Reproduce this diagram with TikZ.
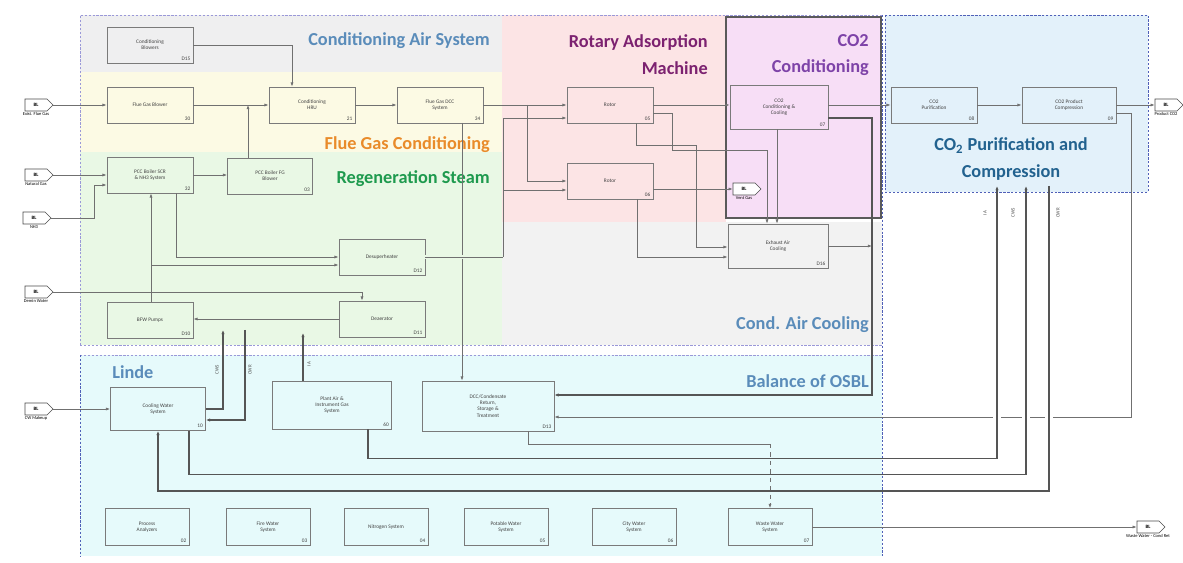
\documentclass[tikz,border=0pt]{standalone}
\usepackage{fontspec}
\setmainfont{Carlito}
\usetikzlibrary{arrows.meta,positioning,calc,shapes.symbols}
\definecolor{wire}{HTML}{707070}
\definecolor{utilwire}{HTML}{555555}
\definecolor{boxline}{HTML}{7A7A7A}
\definecolor{condline}{HTML}{5A5A5A}
\definecolor{airfill}{HTML}{EFEFF0}
\definecolor{fluefill}{HTML}{FCFAE4}
\definecolor{steamfill}{HTML}{E9F8E5}
\definecolor{rotorfill}{HTML}{FCE4E5}
\definecolor{condfill}{HTML}{F7DEF6}
\definecolor{coolfill}{HTML}{F2F2F2}
\definecolor{purfill}{HTML}{E3F1FA}
\definecolor{osblfill}{HTML}{E6FAFB}
\definecolor{fence}{HTML}{9A98D8}
\definecolor{fencedark}{HTML}{5060B8}
\definecolor{airtxt}{HTML}{5A8CBA}
\definecolor{fluetxt}{HTML}{E98B2A}
\definecolor{steamtxt}{HTML}{1E9A4E}
\definecolor{rotortxt}{HTML}{7C2270}
\definecolor{condtxt}{HTML}{7E43A8}
\definecolor{purtxt}{HTML}{22628F}

\begin{document}
\begin{tikzpicture}[
  x=0.025cm, y=-0.025cm,
  font=\fontsize{3.8}{4.4}\selectfont,
  unit/.style={draw=boxline, line width=.5pt, minimum width=2.15cm,
    minimum height=.9cm, align=center, inner sep=1pt, text=black!75},
  idno/.style={label={[anchor=south east, inner sep=2pt, text=black!75]south east:#1}},
  port/.style={signal, signal to=east, draw=black!70, line width=.4pt, fill=white,
    minimum width=.7cm, minimum height=.3cm, inner sep=0pt,
    font=\fontsize{3.5}{4}\selectfont\bfseries},
  portlabel/.style={font=\fontsize{3.2}{3.6}\selectfont, inner sep=.5pt},
  flow/.style={draw=wire, line width=.5pt, -{Latex[length=3pt,width=2.2pt]}},
  wireline/.style={draw=wire, line width=.5pt},
  util/.style={draw=utilwire, line width=.9pt, -{Latex[length=3pt,width=2.4pt]}},
  area/.style={font=\fontsize{13}{19}\selectfont\bfseries, inner sep=0pt},
  utag/.style={font=\fontsize{3.5}{4}\selectfont, rotate=90, text=black!70},
  fenceline/.style={line width=.6pt, dash pattern=on 1.6pt off 1.2pt}
]
  \useasboundingbox (0,0) rectangle (1183,563);
  \fill[white] (0,0) rectangle (1183,563);

  \fill[airfill] (80,15) rectangle (502,72);
  \fill[fluefill] (80,72) rectangle (502,152);
  \fill[steamfill] (80,152) rectangle (502,345);
  \fill[rotorfill] (502,15) rectangle (726,222);
  \fill[coolfill] (502,222) rectangle (882,345);
  \fill[condfill] (726,17) rectangle (881,218);
  \draw[condline, line width=.8pt] (726,17) rectangle (881,218);
  \fill[purfill] (885,15) rectangle (1148,192);
  \draw[fencedark, fenceline] (885,15) rectangle (1148,192);
  \fill[osblfill] (80,355) rectangle (882,556);
  \draw[fence, fenceline] (80,345) -- (80,15) -- (882,15);
  \draw[fence, fenceline] (80,345) -- (882,345);
  \draw[fence, fenceline] (80,355) -- (882,355);
  \draw[fencedark, fenceline] (80,355) -- (80,556);
  \draw[fencedark, fenceline] (882,15) -- (882,556);

  \node[area, text=airtxt, anchor=east] (airhead) at (490,41) {Conditioning Air System};
  \node[area, text=fluetxt, anchor=east] (fluehead) at (490,145) {Flue Gas Conditioning};
  \node[area, text=steamtxt, anchor=east] (steamhead) at (490,179) {Regeneration Steam};
  \node[area, text=rotortxt, anchor=east, align=right] (rotorhead) at (708,55)
    {Rotary Adsorption\\Machine};
  \node[area, text=condtxt, anchor=east, align=right] (condhead) at (869,55)
    {CO2\\Conditioning};
  \node[area, text=airtxt, anchor=east] (coolhead) at (869,325) {Cond. Air Cooling};
  \node[area, text=airtxt, anchor=east] (osblhead) at (869,381) {Balance of OSBL};
  \node[area, text=airtxt, anchor=west] (lindehead) at (112,372) {Linde};
  \node[area, text=purtxt, align=center] (purhead) at (1011,159)
    {CO\textsubscript{2} Purification and\\Compression};

  \node[unit, idno=D15] (cblow) at (150,45) {Conditioning\\Blowers};
  \node[unit, idno=30] (fgblow) at (150,105) {Flue Gas Blower};
  \node[unit, idno=21] (hru) at (312,105) {Conditioning\\HRU};
  \node[unit, idno=34] (dcc) at (440,105) {Flue Gas DCC\\System};
  \node[unit, idno=32] (scr) at (150,175) {PCC Boiler SCR\\\& NH3 System};
  \node[unit, idno=03, minimum width=2.125cm] (pccfan) at (270,176) {PCC Boiler FG\\Blower};
  \node[unit, idno=05] (rotA) at (610,105) {Rotor};
  \node[unit, idno=06] (rotB) at (610,181) {Rotor};
  \node[unit, idno=07, minimum width=2.45cm, minimum height=1.1cm] (co2cc) at (779,107)
    {CO2\\Conditioning \&\\Cooling};
  \node[unit, idno=D12] (desup) at (382,257) {Desuperheater};
  \node[unit, idno=D11] (deaer) at (382,319) {Deaerator};
  \node[unit, idno=D10] (bfw) at (150,320) {BFW Pumps};
  \node[unit, idno=D16, minimum width=2.5cm, minimum height=1.1cm] (exhc) at (778,246)
    {Exhaust Air\\Cooling};
  \node[unit, idno=08] (co2pur) at (934,105) {CO2\\Purification};
  \node[unit, idno=09, minimum width=2.35cm] (co2comp) at (1069,105) {CO2 Product\\Compression};
  \node[unit, idno=10, minimum width=2.375cm, minimum height=1.075cm] (cws) at (158,409)
    {Cooling Water\\System};
  \node[unit, idno=60, minimum width=2.975cm, minimum height=1.2cm] (pair) at (332,405)
    {Plant Air \&\\Instrument Gas\\System};
  \node[unit, idno=D13, minimum width=3.3cm, minimum height=1.25cm] (dccr) at (488,406)
    {DCC/Condensate\\Return,\\Storage \&\\Treatment};
  \node[unit, idno=02, minimum width=2.1cm, minimum height=.925cm] (pan) at (147,527)
    {Process\\Analyzers};
  \node[unit, idno=03, minimum width=2.1cm, minimum height=.925cm] (fire) at (268,527)
    {Fire Water\\System};
  \node[unit, idno=04, minimum width=2.1cm, minimum height=.925cm] (nitro) at (386,527)
    {Nitrogen System};
  \node[unit, idno=05, minimum width=2.1cm, minimum height=.925cm] (potw) at (506,527)
    {Potable Water\\System};
  \node[unit, idno=06, minimum width=2.1cm, minimum height=.925cm] (cityw) at (634,527)
    {City Water\\System};
  \node[unit, idno=07, minimum width=2.1cm, minimum height=.925cm] (wastew) at (770,527)
    {Waste Water\\System};

  \node[port] (exfg) at (36,105) {BL};
  \node[portlabel, below=0pt of exfg] (exfgtxt) {Exist. Flue Gas};
  \node[port] (natg) at (36,175) {BL};
  \node[portlabel, below=0pt of natg] (natgtxt) {Natural Gas};
  \node[port] (nh3) at (34,218) {BL};
  \node[portlabel, below=0pt of nh3] (nh3txt) {NH3};
  \node[port] (demin) at (36,292) {BL};
  \node[portlabel, below=0pt of demin] (demintxt) {Demin Water};
  \node[port] (cwmu) at (36,409) {BL};
  \node[portlabel, below=0pt of cwmu] (cwmutxt) {CW Makeup};
  \node[port] (prod) at (1166,105) {BL};
  \node[portlabel, below=0pt of prod] (prodtxt) {Product CO2};
  \node[port] (vent) at (744,189) {BL};
  \node[portlabel, below=0pt of vent] (venttxt) {Vent Gas};
  \node[port] (wwout) at (1148,527) {BL};
  \node[portlabel, below=0pt of wwout] (wwouttxt) {Waste Water - Cond Ret};

  \node[utag] (iatag) at (985,213) {IA};
  \node[utag] (cwstag) at (1013,213) {CWS};
  \node[utag] (cwrtag) at (1058,213) {CWR};
  \node[utag] (cwstag2) at (217,370) {CWS};
  \node[utag] (cwrtag2) at (250,370) {CWR};
  \node[utag] (iatag2) at (309,364) {IA};

  \coordinate (fgjoin) at (248,105);
  \coordinate (fgsplit) at (527,105);
  \coordinate (stmRise) at (503,257);
  \coordinate (stmTap) at (503,190);
  \coordinate (bfwTap) at (151,265);
  \coordinate (dccdrop) at (462,123);
  \coordinate (cdRise) at (872,118);
  \coordinate (wwTee) at (770,444);
  \coordinate (cwsUp) at (223,330);
  \coordinate (cwrDn) at (245,330);
  \coordinate (iaUp) at (303,333);
  \coordinate (iaTop) at (997,186);
  \coordinate (cwsTop) at (1026,186);
  \coordinate (cwrTop) at (1049,186);

  \draw[flow] (exfg.east) -- (fgblow.west);
  \draw[flow] (cblow.east) -| ($(hru.north)+(-20,0)$);
  \draw[flow] (fgblow.east) -- (hru.west);
  \draw[flow] (pccfan.north -| fgjoin) -- (fgjoin);
  \draw[flow] (hru.east) -- (dcc.west);
  \draw[flow] (dcc.east) -- (rotA.west);
  \draw[flow] (fgsplit) |- (rotB.west);
  \draw[flow] (natg.east) -- (scr.west);
  \draw[flow] (nh3.east) -- ++(43,0) |- ($(scr.west)+(0,10)$);
  \draw[flow] (scr.east) -- (scr.east -| pccfan.west);
  \draw[flow] ($(scr.south)+(26,0)$) |- (desup.west);
  \draw[flow] ($(bfw.north)+(1,0)$) -- ($(scr.south)+(1,0)$);
  \draw[flow] (bfwTap) -- ($(desup.west)+(0,8)$);
  \draw[flow] (demin.east) -| ($(deaer.north)+(-20,0)$);
  \draw[flow] (deaer.west) -- (deaer.west -| bfw.east);
  \draw[flow] (dccdrop) -- (dccdrop |- dccr.north);
  \draw[wireline, preaction={draw=steamfill, line width=3pt}] (desup.east) -- (stmRise);
  \draw[flow] (stmRise) |- ($(rotA.west)+(0,13)$);
  \draw[flow] (stmTap) -- ($(rotB.west)+(0,9)$);

  \draw[flow] (rotA.east) -- (rotA.east -| co2cc.west);
  \draw[flow] ($(rotA.east)+(0,8)$) -- ++(19,0) -- ++(0,37) -| ($(exhc.north)+(-11,0)$);
  \draw[flow] ($(rotA.south)+(26,0)$) -- ++(0,22) -| ($(exhc.west)+(-31,1)$)
    -- ($(exhc.west)+(0,1)$);
  \draw[flow] (rotB.east |- vent.west) -- (vent.west);
  \draw[flow] ($(rotB.south)+(27,0)$) |- ($(exhc.west)+(0,11)$);
  \draw[flow] ($(co2cc.south)+(-2,0)$) -- ($(exhc.north)+(-1,0)$);
  \draw[util] ($(co2cc.east)+(0,11)$) -- (cdRise) |- ($(dccr.east)+(0,-11)$);
  \draw[flow] (exhc.east) -- (exhc.east -| cdRise);
  \draw[flow] (co2pur.west -| co2cc.east) -- (co2pur.west);
  \draw[flow] (co2pur.east) -- (co2comp.west);
  \draw[flow] (co2comp.east) -- (prod.west);
  \draw[flow] ($(co2comp.east)+(0,8)$) -- ++(15,0) |- ($(dccr.east)+(0,11)$);
  \foreach \x in {997,1026,1049}
    \draw[white, line width=2.5pt] ({\x-4},417) -- ({\x+4},417);

  \draw[flow] (cwmu.east) -- (cws.west);
  \draw[util] (cws.east) -| (cwsUp);
  \draw[util] (cwrDn) |- ($(cws.east)+(0,11)$);
  \draw[util] (iaUp |- pair.north) -- (iaUp);
  \draw[util] ($(pair.south)+(36,0)$) -- ++(0,29) -| (iaTop);
  \draw[util] ($(cws.south)+(31,0)$) -- ++(0,44) -| (cwsTop);
  \draw[util] (cwrTop) -- ++(0,305) -| (cws.south);
  \draw[wireline] ($(dccr.south)+(40,0)$) |- (wwTee);
  \draw[flow, dashed] (wwTee) -- (wastew.north);
  \draw[flow] (wastew.east) -- (wwout.west);
\end{tikzpicture}
\end{document}
